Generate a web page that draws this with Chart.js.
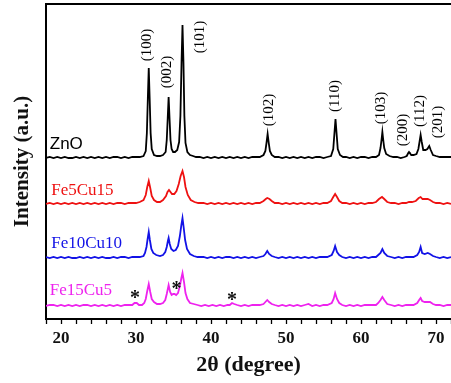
<!DOCTYPE html>
<html>
<head>
<meta charset="utf-8">
<script src="https://cdn.jsdelivr.net/npm/chart.js@4"></script>
<style>
  html, body { margin: 0; padding: 0; background: #fff; }
</style>
</head>
<body>
<canvas id="xrd" width="451" height="383"></canvas>
<script>
// XRD patterns, [2theta, counts a.u.] relative to each trace's baseline
const zno = [
  [18,0],[18.5,1],[19,0],[19.5,1],[20,0],[20.5,1],[21,0],[21.5,0],[22,1],[22.5,0],[23,1],[23.5,0],
  [24,1],[24.5,0],[25,1],[25.5,0],[26,1],[26.5,0],[27,1],[27.5,1],[28,0],[28.5,1],[29,0],[29.5,1],
  [30,1],[30.5,1],[31,2],[31.3,7],[31.45,25],[31.58,60],[31.7,90],[31.82,60],[31.95,25],[32.1,9],
  [32.4,3],[32.8,2],[33.2,2],[33.6,3],[33.95,6],[34.1,18],[34.23,40],[34.35,61],[34.47,40],[34.6,18],
  [34.75,9],[34.95,6],[35.2,6],[35.5,8],[35.75,16],[35.92,42],[36.07,95],[36.2,133],[36.33,95],[36.45,42],
  [36.6,15],[36.85,6],[37.2,3],[37.6,2],[38,1],[38.5,1],[39,0],[39.5,1],[40,0],[40.5,1],[41,0],
  [41.5,1],[42,0],[42.5,1],[43,0],[43.5,1],[44,0],[44.5,1],[45,0],[45.5,1],[46,1],[46.5,1],[47,3],
  [47.25,7],[47.4,15],[47.55,24],[47.7,15],[47.85,7],[48.1,3],[48.5,1],[49,1],[49.5,0],[50,1],
  [50.5,0],[51,1],[51.5,0],[52,1],[52.5,0],[53,1],[53.5,0],[54,1],[54.5,1],[55,0],[55.5,1],[56,2],
  [56.3,9],[56.45,24],[56.6,39],[56.75,24],[56.9,9],[57.2,3],[57.6,1],[58,1],[58.5,0],[59,1],
  [59.5,0],[60,1],[60.5,1],[61,0],[61.5,1],[62,1],[62.4,3],[62.6,10],[62.75,19],[62.85,26],
  [62.95,19],[63.1,10],[63.35,4],[63.8,2],[64.3,1],[64.8,1],[65.3,0],[65.8,1],[66.1,2],[66.3,5],
  [66.4,6],[66.5,5],[66.7,3],[67.0,3],[67.4,4],[67.65,9],[67.8,16],[67.95,23],[68.1,16],[68.3,8],
  [68.6,8],[68.85,9],[69.1,12],[69.3,8],[69.6,3],[70,2],[70.5,1],[71,1],[71.5,1],[72,1]
];
const fe5cu15 = [
  [18,0],[18.5,1],[19,0],[19.5,1],[20,0],[20.5,1],[21,0],[21.5,1],[22,0],[22.5,1],[23,0],[23.5,1],
  [24,0],[24.5,1],[25,0],[25.5,1],[26,0],[26.5,1],[27,0],[27.5,1],[28,1],[28.5,0],[29,1],[29.5,1],
  [30,1],[30.5,2],[31,4],[31.3,9],[31.5,17],[31.7,23],[31.9,16],[32.1,8],[32.4,4],[32.8,2],[33.2,2],
  [33.6,4],[34,8],[34.2,12],[34.4,14],[34.6,12],[34.8,10],[35.1,10],[35.4,13],[35.7,20],[35.95,28],
  [36.2,33],[36.4,27],[36.6,17],[36.9,9],[37.3,4],[37.8,2],[38.3,1],[39,1],[39.5,0],[40,1],[40.5,0],
  [41,1],[41.5,0],[42,1],[42.5,0],[43,1],[43.5,0],[44,1],[44.5,0],[45,1],[45.5,0],[46,1],[46.5,1],
  [47,3],[47.3,5],[47.5,6],[47.8,5],[48.1,3],[48.5,1],[49,1],[49.5,0],[50,1],[50.5,0],[51,1],
  [51.5,0],[52,1],[52.5,0],[53,1],[53.5,0],[54,1],[54.5,0],[55,1],[55.5,1],[56,3],[56.3,7],
  [56.55,10],[56.8,7],[57.1,3],[57.5,1],[58,1],[58.5,0],[59,1],[59.5,0],[60,1],[60.5,0],[61,1],
  [61.5,1],[62,2],[62.4,5],[62.8,7],[63.1,5],[63.5,2],[64,1],[64.5,1],[65,0],[65.5,1],[66,1],
  [66.4,2],[66.8,2],[67.3,3],[67.7,6],[67.95,7],[68.2,5],[68.5,5],[68.9,5],[69.2,4],[69.6,2],
  [70,1],[70.5,1],[71,0],[71.5,1],[72,0]
];
const fe10cu10 = [
  [18,1],[18.5,0],[19,1],[19.5,0],[20,1],[20.5,0],[21,1],[21.5,0],[22,0],[22.5,1],[23,0],[23.5,1],
  [24,0],[24.5,1],[25,0],[25.5,1],[26,0],[26.5,0],[27,1],[27.5,0],[28,1],[28.5,1],[29,0],[29.5,1],
  [30,1],[30.5,1],[31,2],[31.2,5],[31.4,11],[31.55,19],[31.7,26],[31.85,18],[32.05,9],[32.3,5],
  [32.7,3],[33.2,2],[33.6,3],[33.9,6],[34.1,11],[34.25,17],[34.35,20],[34.5,14],[34.7,9],[35,7],
  [35.3,8],[35.6,12],[35.85,22],[36.05,33],[36.2,40],[36.35,31],[36.55,18],[36.8,9],[37.2,4],
  [37.7,2],[38.2,1],[39,1],[39.5,0],[40,1],[40.5,0],[41,1],[41.5,0],[42,1],[42.5,1],[43,0],[43.5,1],
  [44,0],[44.5,1],[45,0],[45.5,1],[46,0],[46.5,1],[47,2],[47.25,4],[47.5,7],[47.75,4],[48.1,2],
  [48.5,1],[49,0],[49.5,1],[50,0],[50.5,1],[51,0],[51.5,1],[52,0],[52.5,1],[53,0],[53.5,1],[54,0],
  [54.5,1],[55,1],[55.5,1],[56.1,3],[56.35,7],[56.55,12],[56.8,6],[57.1,3],[57.5,1],[58,0],
  [58.5,1],[59,0],[59.5,1],[60,0],[60.5,1],[61,0],[61.5,1],[62,1],[62.3,3],[62.6,5],[62.85,9],
  [63.1,5],[63.5,2],[64,1],[64.5,0],[65,1],[65.5,0],[66,1],[66.5,1],[67,1],[67.5,3],[67.75,6],
  [67.95,11],[68.15,5],[68.5,4],[68.9,5],[69.2,4],[69.6,2],[70,1],[70.5,0],[71,1],[71.5,0],[72,1]
];
const fe15cu5 = [
  [18,0],[18.5,1],[19,1],[19.5,0],[20,1],[20.5,0],[21,1],[21.5,0],[22,1],[22.5,0],[23,1],[23.5,1],
  [24,0],[24.5,1],[25,0],[25.5,1],[26,0],[26.5,1],[27,0],[27.5,1],[28,0],[28.5,1],[29,1],[29.5,1],
  [29.8,3],[30.1,3],[30.4,1],[30.8,1],[31.1,3],[31.3,7],[31.5,15],[31.7,22],[31.9,14],[32.1,7],
  [32.4,4],[32.8,2],[33.2,2],[33.6,3],[33.9,6],[34.1,12],[34.35,21],[34.55,14],[34.75,11],[34.95,12],
  [35.15,12],[35.35,11],[35.6,13],[35.85,20],[36.05,28],[36.2,33],[36.4,24],[36.6,13],[36.85,7],
  [37.2,3],[37.7,2],[38.2,1],[38.7,0],[39.2,1],[39.7,0],[40.2,1],[40.7,0],[41.2,1],[41.7,0],
  [42.2,1],[42.5,1],[42.8,3],[43.1,2],[43.5,1],[44,0],[44.5,1],[45,0],[45.5,1],[46,1],[46.5,1],
  [47,2],[47.25,4],[47.5,6],[47.75,4],[48.1,2],[48.5,1],[49,0],[49.5,1],[50,0],[50.5,1],[51,0],
  [51.5,1],[52,0],[52.5,1],[53,2],[53.5,0],[54,1],[54.5,0],[55,1],[55.5,1],[56.1,3],[56.35,7],
  [56.55,13],[56.8,7],[57.1,3],[57.5,1],[58,0],[58.5,1],[59,0],[59.5,1],[60,0],[60.5,1],[61,1],
  [61.5,1],[62,1],[62.3,3],[62.6,6],[62.85,9],[63.1,6],[63.5,2],[64,1],[64.5,0],[65,1],[65.5,0],
  [66,1],[66.5,1],[67,1],[67.5,3],[67.75,6],[67.95,8],[68.15,5],[68.5,4],[68.9,4],[69.2,4],
  [69.6,2],[70,1],[70.5,1],[71,0],[71.5,1],[72,1]
];

const traces = [zno, fe5cu15, fe10cu10, fe15cu5];
const sampleNames = ['ZnO', 'Fe5Cu15', 'Fe10Cu10', 'Fe15Cu5'];
const offsets = [161, 115, 61, 13];
const colors = ['#000000', '#ee1111', '#1212e6', '#ee22ee'];

// Miller indices and where their labels sit (2theta, intensity)
const peakLabels = ['(100)', '(002)', '(101)', '(102)', '(110)', '(103)', '(200)', '(112)', '(201)'];
const peakLabelX = [31.5, 34.1, 38.6, 47.7, 56.55, 62.65, 65.6, 67.9, 70.3];
const peakLabelY = [274, 247, 282, 209, 223, 211, 189, 208, 197];

// impurity peaks marked with *
const starX = [29.85, 35.4, 42.8];
const starY = [26, 35, 24];

const nameX = [18.5, 18.7, 18.7, 18.5];
const nameY = [175, 128, 75, 28];

const serif = '"Liberation Serif", "Times New Roman", serif';
const sans = '"Liberation Sans", Arial, sans-serif';

const annotate = {
  id: 'annotate',
  afterDatasetsDraw(chart) {
    const { ctx, chartArea: a, scales: { x, y } } = chart;
    ctx.save();
    // top frame line
    ctx.strokeStyle = '#000';
    ctx.lineWidth = 2;
    ctx.beginPath();
    ctx.moveTo(a.left, a.top);
    ctx.lineTo(a.right, a.top);
    ctx.stroke();

    ctx.fillStyle = '#000';
    ctx.font = '15px ' + serif;
    ctx.textAlign = 'center';
    ctx.textBaseline = 'middle';
    peakLabels.forEach((t, i) => {
      ctx.save();
      ctx.translate(x.getPixelForValue(peakLabelX[i]), y.getPixelForValue(peakLabelY[i]));
      ctx.rotate(-Math.PI / 2);
      ctx.fillText(t, 0, 0);
      ctx.restore();
    });

    ctx.textAlign = 'left';
    sampleNames.forEach((t, i) => {
      ctx.fillStyle = colors[i];
      ctx.font = (i === 0 ? '17px ' + sans : '17px ' + serif);
      ctx.fillText(t, x.getPixelForValue(nameX[i]), y.getPixelForValue(nameY[i]));
    });

    ctx.fillStyle = '#111';
    ctx.font = 'bold 20px ' + serif;
    ctx.textAlign = 'center';
    ctx.textBaseline = 'alphabetic';
    starX.forEach((v, i) => {
      ctx.fillText('*', x.getPixelForValue(v), y.getPixelForValue(starY[i]) + 11);
    });
    ctx.restore();
  }
};

new Chart(document.getElementById('xrd'), {
  type: 'line',
  data: {
    datasets: traces.map((tr, i) => ({
      label: sampleNames[i],
      data: tr.map(p => ({ x: p[0], y: p[1] + offsets[i] })),
      borderColor: colors[i],
      borderWidth: 1.8,
      pointRadius: 0,
      tension: 0,
      fill: false
    }))
  },
  options: {
    responsive: false,
    animation: false,
    devicePixelRatio: 1,
    layout: { padding: { top: 4, right: 0, left: 0, bottom: 0 } },
    plugins: { legend: { display: false }, tooltip: { enabled: false } },
    scales: {
      x: {
        type: 'linear',
        min: 18,
        max: 72,
        ticks: {
          stepSize: 2,
          autoSkip: false,
          maxRotation: 0,
          callback: v => (v % 10 === 0 ? v : ''),
          font: { family: serif, size: 17, weight: 'bold' },
          color: '#111',
          padding: 4
        },
        grid: { drawOnChartArea: false, tickLength: 5, tickColor: '#000', tickWidth: 1.3 },
        border: { color: '#000', width: 2 },
        title: {
          display: true,
          text: '2θ (degree)',
          font: { family: serif, size: 22, weight: 'bold' },
          color: '#111',
          padding: { top: 0, bottom: 4 }
        },
        afterFit: s => { s.height = 64; s.paddingLeft = 0; s.paddingRight = 0; }
      },
      y: {
        min: 0,
        max: 315,
        ticks: { display: false },
        grid: { display: false },
        border: { color: '#000', width: 2 },
        title: {
          display: true,
          text: 'Intensity (a.u.)',
          font: { family: serif, size: 21, weight: 'bold' },
          color: '#111',
          padding: { top: 10, bottom: 0 }
        },
        afterFit: s => { s.width = 46; }
      }
    }
  },
  plugins: [annotate]
});
</script>
</body>
</html>
